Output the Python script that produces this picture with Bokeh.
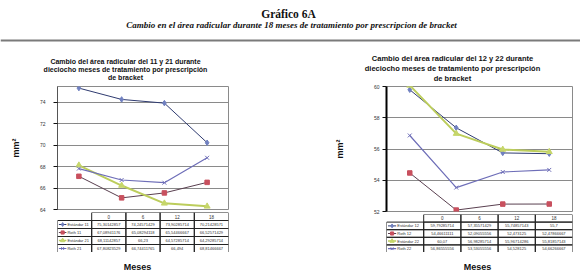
from bokeh.plotting import figure
from bokeh.models import FactorRange, Range1d, FixedTicker, Span, ColumnDataSource
from bokeh.layouts import column, row
from bokeh.transform import dodge
from bokeh.core.properties import value
from bokeh.embed import file_html
from bokeh.resources import INLINE

# ---------------- data ----------------
months = ["0", "6", "12", "18"]

series_L = ["Estándar 11", "Roth 11", "Estándar 21", "Roth 21"]
estandar_11 = [75.30142857, 74.24571429, 73.90285714, 70.21428571]
roth_11 = [67.08941176, 65.08294118, 65.54466667, 66.52571429]
estandar_21 = [68.11142857, 66.23, 64.57285714, 64.29285714]
roth_21 = [67.80823529, 66.74411765, 66.494, 68.81466667]

series_R = ["Estándar 12", "Roth 12", "Estándar 22", "Roth 22"]
estandar_12 = [59.79285714, 57.35571429, 55.74857143, 55.7]
roth_12 = [54.46611111, 52.09055556, 52.473125, 52.47866667]
estandar_22 = [60.07, 56.98285714, 55.96714286, 55.81857143]
roth_22 = [56.86555556, 53.53055556, 54.528125, 54.66266667]

yticks_L = [64, 66, 68, 70, 72, 74]
yticks_R = [52, 54, 56, 58, 60]

main_title = "Gráfico 6A"
sub_title = "Cambio en el área radicular durante 18 meses de tratamiento por prescripcion de bracket"
title_L = ["Cambio del área radicular del 11 y 21 durante",
           "dieciocho meses de tratamiento por prescripción",
           "de bracket"]
title_R = ["Cambio del área radicular del 12 y 22 durante",
           "dieciocho meses de tratamiento por prescripción",
           "de bracket"]
x_label = "Meses"
y_label = "mm²"

# ---------------- styles ----------------
SANS = "Liberation Sans"
SERIF = "Liberation Serif"
styles = [
    dict(lc="#2f3b70", lw=1.0, mk="diamond", mc="#7080c0", sz=5.5),
    dict(lc="#5a4050", lw=1.0, mk="square", mc="#c8505e", sz=4.5),
    dict(lc="#bccd5c", lw=2.0, mk="triangle", mc="#c6d66a", sz=6),
    dict(lc="#6e6eb8", lw=1.2, mk="x", mc="#6e6eb8", sz=5.5),
]


def fmt(v):
    return str(v).replace(".", ",")


def blank(p):
    p.outline_line_color = None
    p.grid.visible = False


# ---------------- header ----------------
header = figure(width=580, height=83, x_range=Range1d(0, 580), y_range=Range1d(83, 0),
                x_axis_location=None, y_axis_location=None, min_border=0,
                output_backend="svg", toolbar_location=None)
blank(header)
header.text(x=[288], y=[13], text=[main_title], text_align="center", text_baseline="middle",
            text_font=value(SERIF), text_font_style="bold", text_font_size="11.5px", text_color="#111")
header.text(x=[291], y=[24], text=[sub_title], text_align="center", text_baseline="middle",
            text_font=value(SERIF), text_font_style="bold italic", text_font_size="9px", text_color="#111")
header.add_layout(Span(location=40, dimension="width", line_color="#7a7a7a", line_width=2))
header.text(x=[125] * 3, y=[61, 69, 77], text=title_L, text_align="center", text_baseline="middle",
            text_font=value(SANS), text_font_style="bold", text_font_size="7px", text_color="#111")
header.text(x=[452] * 3, y=[58, 68, 78], text=title_R, text_align="center", text_baseline="middle",
            text_font=value(SANS), text_font_style="bold", text_font_size="7.5px", text_color="#111")


# ---------------- chart ----------------
def make_chart(data, yr, yticks, width, height, bl, br, axis_lw, axis_col, tick_standoff, lab_standoff):
    p = figure(width=width, height=height, x_range=FactorRange(*months), y_range=Range1d(*yr),
               x_axis_location=None, min_border_left=bl, min_border_right=br,
               min_border_top=3, min_border_bottom=3,
               output_backend="svg", toolbar_location=None)
    p.outline_line_color = "#8a8a8a"
    p.xgrid.visible = False
    p.ygrid.grid_line_color = "#8a8a8a"
    ax = p.yaxis[0]
    ax.ticker = FixedTicker(ticks=yticks)
    ax.minor_tick_line_color = None
    ax.major_tick_out = 4
    ax.major_tick_in = 0
    ax.major_tick_line_color = "#111"
    ax.axis_line_color = axis_col
    ax.axis_line_width = axis_lw
    ax.major_label_text_font = SANS
    ax.major_label_text_font_size = "5px"
    ax.major_label_text_color = "#333"
    ax.major_label_standoff = tick_standoff
    ax.axis_label = y_label
    ax.axis_label_text_font = SANS
    ax.axis_label_text_font_size = "9px"
    ax.axis_label_text_font_style = "bold"
    ax.axis_label_text_color = "#111"
    ax.axis_label_standoff = lab_standoff
    for vals, st in zip(data, styles):
        p.line(x=months, y=vals, line_color=st["lc"], line_width=st["lw"])
        p.scatter(x=months, y=vals, marker=st["mk"], size=st["sz"],
                  fill_color=st["mc"], line_color=st["mc"], line_width=1)
    return p


# ---------------- table ----------------
def make_table(names, data, width, height, bl, br):
    cols = ["leg"] + months
    rows = ["hdr"] + names
    xr = FactorRange(*cols)
    yr = FactorRange(*reversed(rows))
    p = figure(width=width, height=height, x_range=xr, y_range=yr,
               x_axis_location=None, y_axis_location=None,
               min_border_left=bl, min_border_right=br, min_border_top=0, min_border_bottom=0,
               output_backend="svg", toolbar_location=None)
    blank(p)
    # header row
    p.rect(x=months, y=["hdr"] * 4, width=1, height=1, fill_color=None, line_color="#222", line_width=1)
    p.text(x=months, y=["hdr"] * 4, text=months, text_align="center", text_baseline="middle",
           text_font=value(SANS), text_font_size="4.5px", text_color="#333")
    # body
    xs, ys, txt = [], [], []
    for name, vals in zip(names, data):
        for m, v in zip(months, vals):
            xs.append(m)
            ys.append(name)
            txt.append(fmt(v))
    p.rect(x=xs, y=ys, width=1, height=1, fill_color=None, line_color="#222", line_width=1)
    p.rect(x=["leg"] * len(names), y=names, width=1, height=1, fill_color=None, line_color="#222", line_width=1)
    p.text(x=xs, y=ys, text=txt, text_align="center", text_baseline="middle",
           text_font=value(SANS), text_font_size="4px", text_color="#333")
    # legend keys
    src = ColumnDataSource(dict(
        col=["leg"] * len(names), row=names,
        lc=[s["lc"] for s in styles], lw=[min(s["lw"], 1.5) for s in styles],
        mk=[s["mk"] for s in styles], mc=[s["mc"] for s in styles],
        sz=[s["sz"] * 0.7 for s in styles]))
    p.segment(x0=dodge("col", -0.46, range=xr), y0="row", x1=dodge("col", -0.24, range=xr), y1="row",
              line_color="lc", line_width="lw", source=src)
    p.scatter(x=dodge("col", -0.35, range=xr), y="row", marker="mk", size="sz",
              fill_color="mc", line_color="mc", source=src)
    p.text(x=dodge("col", -0.21, range=xr), y="row", text="row", text_align="left", text_baseline="middle",
           text_font=value(SANS), text_font_size="4px", text_color="#333", source=src)
    return p


chart_L = make_chart([estandar_11, roth_11, estandar_21, roth_21], (64, 75.45), yticks_L,
                     300, 129, 57, 72, 1, "#555555", 8, 16)
table_L = make_table(series_L, [estandar_11, roth_11, estandar_21, roth_21], 300, 40, 14, 72)

chart_R = make_chart([estandar_12, roth_12, estandar_22, roth_22], (52, 60), yticks_R,
                     280, 131, 86, 8, 2, "#000000", 3, 26)
table_R = make_table(series_R, [estandar_12, roth_12, estandar_22, roth_22], 280, 38, 40, 8)

# ---------------- footer (axis titles) ----------------
footer = figure(width=580, height=24, x_range=Range1d(0, 580), y_range=Range1d(276, 252),
                x_axis_location=None, y_axis_location=None, min_border=0,
                output_backend="svg", toolbar_location=None)
blank(footer)
footer.text(x=[137, 477], y=[266, 266], text=[x_label, x_label], text_align="center", text_baseline="middle",
            text_font=value(SANS), text_font_style="bold", text_font_size="9px", text_color="#111")

layout = column(header, row(column(chart_L, table_L), column(chart_R, table_R)), footer)

open("out.html", "w").write(file_html(layout, INLINE))
